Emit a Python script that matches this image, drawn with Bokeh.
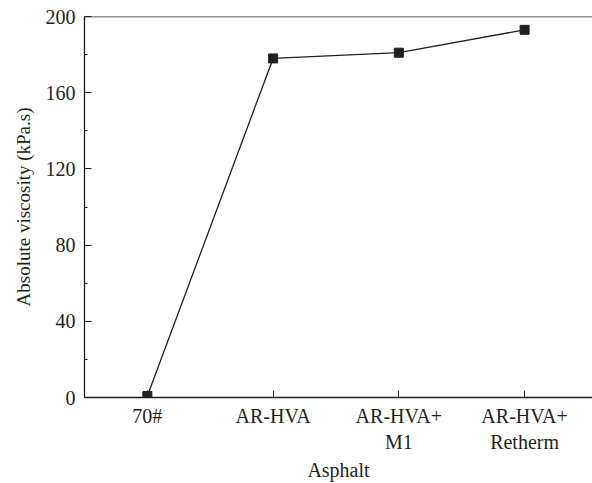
from bokeh.plotting import figure
from bokeh.models import Range1d, FixedTicker, Span, ColumnDataSource
from bokeh.embed import file_html
from bokeh.resources import INLINE

categories = ["70#", "AR-HVA", "AR-HVA+\nM1", "AR-HVA+\nRetherm"]
viscosity = [0.8, 178, 181, 193]
y_ticks = [0, 40, 80, 120, 160, 200]
y_minor = [20, 60, 100, 140, 180]

xs = list(range(len(categories)))
src = ColumnDataSource(dict(x=xs, y=viscosity))

INK = "#231f20"
FONT = "Liberation Serif"

p = figure(width=592, height=483, output_backend="svg", toolbar_location=None,
           x_range=Range1d(-0.5, 3.54), y_range=Range1d(0, 200),
           min_border_left=84, min_border_right=0, min_border_top=16, min_border_bottom=85)
p.outline_line_color = None
p.grid.visible = False
p.background_fill_color = "white"
p.border_fill_color = "white"

p.line("x", "y", source=src, line_color=INK, line_width=1.3)
p.scatter("x", "y", source=src, marker="square", size=9, fill_color=INK, line_color=INK)

p.add_layout(Span(location=200, dimension="width", line_color=INK, line_width=1.3))

xa = p.xaxis[0]
xa.ticker = FixedTicker(ticks=xs, minor_ticks=[])
xa.major_label_overrides = {i: c for i, c in enumerate(categories)}
xa.axis_label = "Asphalt"

ya = p.yaxis[0]
ya.ticker = FixedTicker(ticks=y_ticks, minor_ticks=y_minor)
ya.axis_label = "Absolute viscosity (kPa.s)"

for ax in (xa, ya):
    ax.axis_line_color = INK
    ax.axis_line_width = 1.3
    ax.major_tick_line_color = INK
    ax.minor_tick_line_color = INK
    ax.major_tick_in = 7
    ax.major_tick_out = 0
    ax.minor_tick_in = 3
    ax.minor_tick_out = 0
    ax.major_label_text_font = FONT
    ax.major_label_text_color = INK
    ax.axis_label_text_font = FONT
    ax.axis_label_text_font_style = "normal"
    ax.axis_label_text_color = INK

xa.major_label_text_font_size = "20px"
xa.axis_label_text_font_size = "20px"
ya.major_label_text_font_size = "20px"
ya.axis_label_text_font_size = "19px"

xa.major_label_standoff = 7
xa.axis_label_standoff = 3
ya.major_label_standoff = 9
ya.axis_label_standoff = 9

open("out.html", "w").write(file_html(p, INLINE))
